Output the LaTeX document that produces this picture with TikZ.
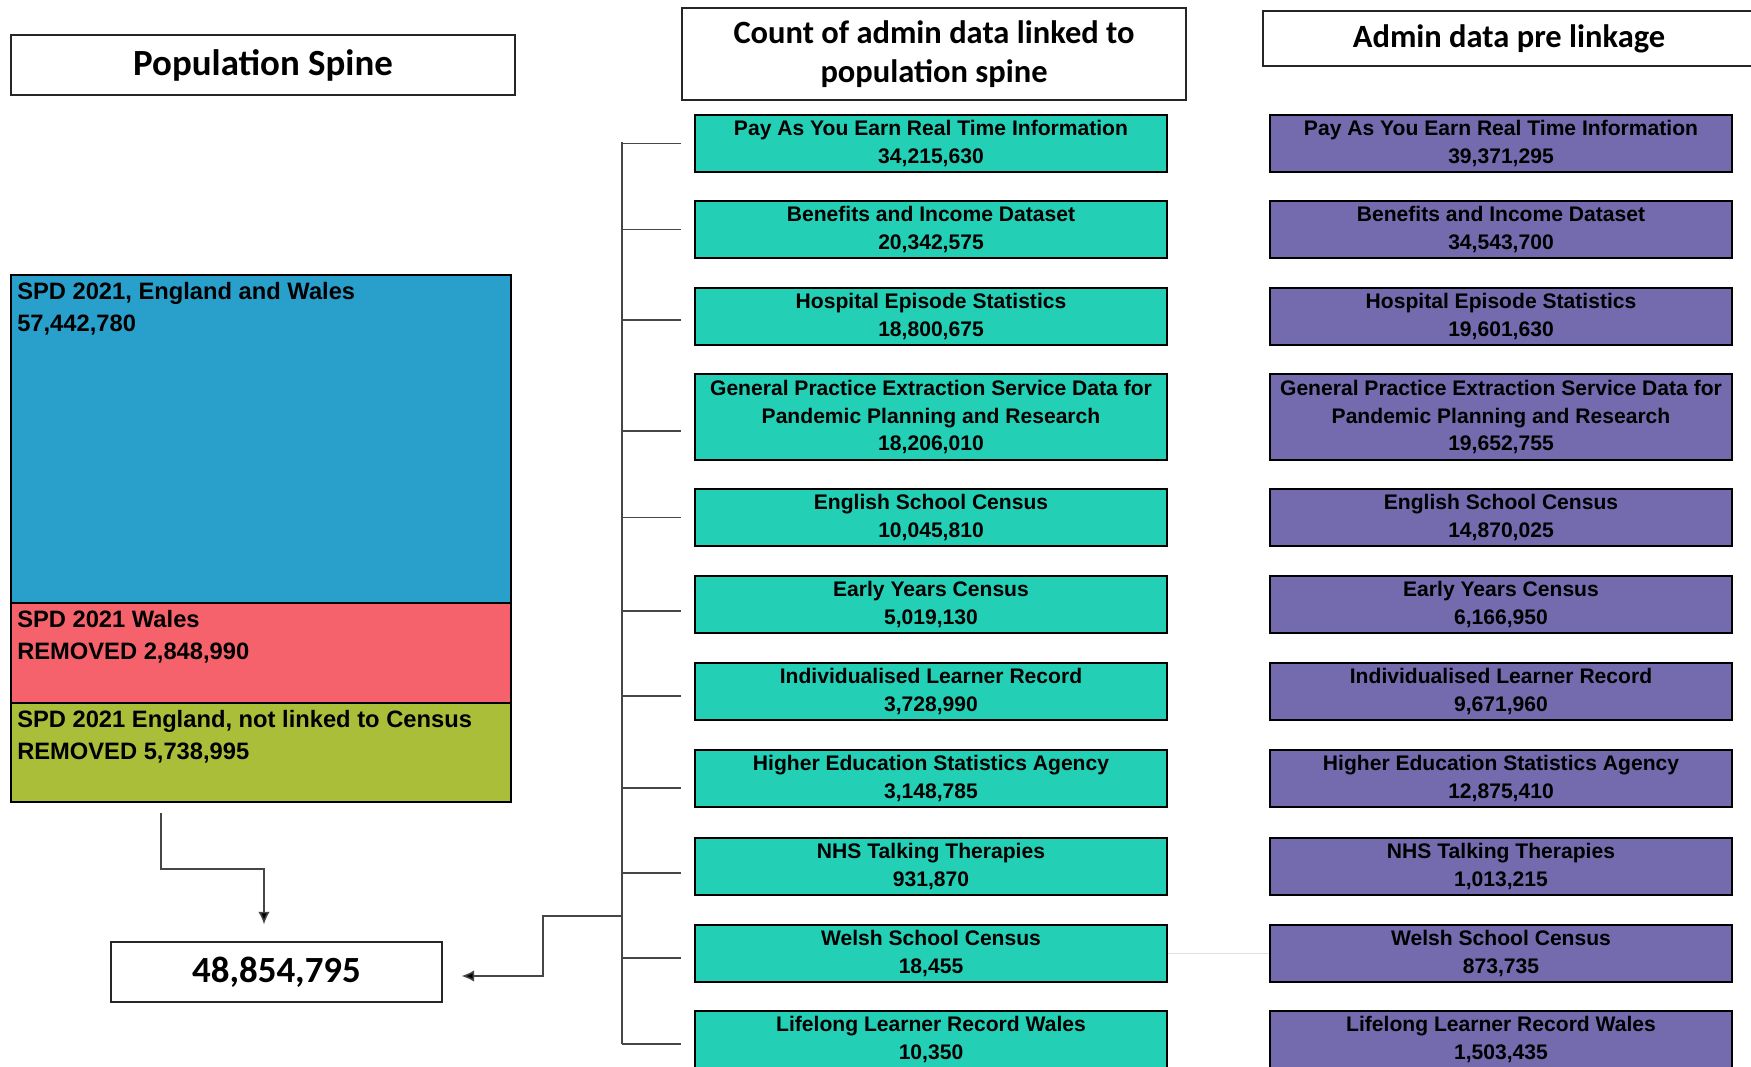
\documentclass[tikz,border=0pt]{standalone}
\usepackage{fontspec}
\setmainfont{Liberation Sans}
\newfontfamily\calfont{Carlito}
\usetikzlibrary{arrows.meta}

\definecolor{linkteal}{RGB}{35,208,181}
\definecolor{prepurple}{RGB}{116,107,175}
\definecolor{spdblue}{RGB}{41,160,204}
\definecolor{walesred}{RGB}{245,98,108}
\definecolor{nolinkolive}{RGB}{170,190,58}
\definecolor{wiregray}{RGB}{70,70,70}

\tikzset{
  header/.style={draw=black!85, line width=0.8pt, fill=white, align=center,
    inner sep=0pt, font=\calfont\bfseries\fontsize{18.5}{22}\selectfont},
  linkbox/.style={draw=black, line width=1.3pt, fill=linkteal, inner sep=1pt,
    align=center, minimum width=9.44cm, minimum height=1.14cm,
    font=\bfseries\fontsize{12}{15.9}\selectfont},
  prebox/.style={linkbox, fill=prepurple, minimum width=9.24cm},
  tallbox/.style={minimum height=1.72cm},
  spdbox/.style={draw=black, line width=1.3pt, minimum width=10cm, inner sep=0pt},
  spdtext/.style={anchor=north west, align=left, inner sep=0pt,
    font=\bfseries\fontsize{13.5}{18.2}\selectfont},
  wire/.style={draw=wiregray, line width=0.85pt},
  flow/.style={wire, -{Latex[length=2.5mm,width=2.3mm,fill=black]}},
}

\begin{document}
\begin{tikzpicture}[x=0.02cm, y=-0.02cm]
\useasboundingbox (0,0) rectangle (1751,1067);

% column headers
\node[header, minimum width=10.08cm, minimum height=1.2cm,
      font=\calfont\bfseries\fontsize{21}{24}\selectfont] (popspine) at (263,65) {Population Spine};
\node[header, minimum width=10.08cm, minimum height=1.84cm] (linkhdr) at (934,54)
  {Count of admin data linked to\\population spine};
\node[header, minimum width=9.84cm, minimum height=1.1cm] (prehdr) at (1509,38.5) {Admin data pre linkage};

% population spine stack
\node[spdbox, fill=spdblue, minimum height=6.56cm] (spdall) at (261,439) {};
\node[spdbox, fill=walesred, minimum height=2.0cm] (spdwales) at (261,653) {};
\node[spdbox, fill=nolinkolive, minimum height=1.98cm] (spdnolink) at (261,752.5) {};
\node[spdtext] (spdalltxt) at ([xshift=0.14cm, yshift=-0.17cm]spdall.north west)
  {SPD 2021, England and Wales\\57,442,780};
\node[spdtext] (spdwalestxt) at ([xshift=0.14cm, yshift=-0.17cm]spdwales.north west)
  {SPD 2021 Wales\\REMOVED 2,848,990};
\node[spdtext] (spdnolinktxt) at ([xshift=0.14cm, yshift=-0.17cm]spdnolink.north west)
  {SPD 2021 England, not linked to Census\\REMOVED 5,738,995};

\node[header, minimum width=6.62cm, minimum height=1.2cm,
      font=\calfont\bfseries\fontsize{21}{24}\selectfont] (result) at (276.5,972) {48,854,795};

% linked counts
\node[linkbox] (lk1) at (931,143.5) {Pay As You Earn Real Time Information\\34,215,630};
\node[linkbox] (lk2) at (931,229.5) {Benefits and Income Dataset\\20,342,575};
\node[linkbox] (lk3) at (931,316.5) {Hospital Episode Statistics\\18,800,675};
\node[linkbox, tallbox] (lk4) at (931,417) {General Practice Extraction Service Data for\\Pandemic Planning and Research\\18,206,010};
\node[linkbox] (lk5) at (931,517.5) {English School Census\\10,045,810};
\node[linkbox] (lk6) at (931,604.5) {Early Years Census\\5,019,130};
\node[linkbox] (lk7) at (931,691.5) {Individualised Learner Record\\3,728,990};
\node[linkbox] (lk8) at (931,778.5) {Higher Education Statistics Agency\\3,148,785};
\node[linkbox] (lk9) at (931,866.5) {NHS Talking Therapies\\931,870};
\node[linkbox] (lk10) at (931,953.5) {Welsh School Census\\18,455};
\node[linkbox] (lk11) at (931,1039.5) {Lifelong Learner Record Wales\\10,350};

% counts before linkage
\node[prebox] (pre1) at (1501,143.5) {Pay As You Earn Real Time Information\\39,371,295};
\node[prebox] (pre2) at (1501,229.5) {Benefits and Income Dataset\\34,543,700};
\node[prebox] (pre3) at (1501,316.5) {Hospital Episode Statistics\\19,601,630};
\node[prebox, tallbox] (pre4) at (1501,417) {General Practice Extraction Service Data for\\Pandemic Planning and Research\\19,652,755};
\node[prebox] (pre5) at (1501,517.5) {English School Census\\14,870,025};
\node[prebox] (pre6) at (1501,604.5) {Early Years Census\\6,166,950};
\node[prebox] (pre7) at (1501,691.5) {Individualised Learner Record\\9,671,960};
\node[prebox] (pre8) at (1501,778.5) {Higher Education Statistics Agency\\12,875,410};
\node[prebox] (pre9) at (1501,866.5) {NHS Talking Therapies\\1,013,215};
\node[prebox] (pre10) at (1501,953.5) {Welsh School Census\\873,735};
\node[prebox] (pre11) at (1501,1039.5) {Lifelong Learner Record Wales\\1,503,435};

% bracket joining the linked counts
\coordinate (spinetop) at (622,142);
\coordinate (spinebot) at (622,1044);
\coordinate (join) at (622,916);
\coordinate (drop) at (161,813);
\draw[wire] (spinetop) -- (spinebot);
\draw[wire] (spinetop |- lk1.west) -- ([xshift=-0.26cm]lk1.west);
\draw[wire] (spinetop |- lk2.west) -- ([xshift=-0.26cm]lk2.west);
\draw[wire] ([yshift=-0.07cm]spinetop |- lk3.west) -- ([xshift=-0.26cm, yshift=-0.07cm]lk3.west);
\draw[wire] ([yshift=-0.28cm]spinetop |- lk4.west) -- ([xshift=-0.26cm, yshift=-0.28cm]lk4.west);
\draw[wire] (spinetop |- lk5.west) -- ([xshift=-0.26cm]lk5.west);
\draw[wire] ([yshift=-0.13cm]spinetop |- lk6.west) -- ([xshift=-0.26cm, yshift=-0.13cm]lk6.west);
\draw[wire] ([yshift=-0.09cm]spinetop |- lk7.west) -- ([xshift=-0.26cm, yshift=-0.09cm]lk7.west);
\draw[wire] ([yshift=-0.19cm]spinetop |- lk8.west) -- ([xshift=-0.26cm, yshift=-0.19cm]lk8.west);
\draw[wire] ([yshift=-0.13cm]spinetop |- lk9.west) -- ([xshift=-0.26cm, yshift=-0.13cm]lk9.west);
\draw[wire] ([yshift=-0.09cm]spinetop |- lk10.west) -- ([xshift=-0.26cm, yshift=-0.09cm]lk10.west);
\draw[wire] (spinebot) -- ([xshift=-0.26cm]spinebot -| lk11.west);
\draw[draw=black!12, line width=0.6pt] (lk10.east) -- (pre10.west);

% arrows into the result
\draw[flow] (drop) -- ++(0,56) -| ([xshift=-0.25cm, yshift=0.34cm]result.north);
\draw[flow] (join) -- (543,916) |- ([xshift=0.38cm, yshift=-0.08cm]result.east);
\end{tikzpicture}
\end{document}
